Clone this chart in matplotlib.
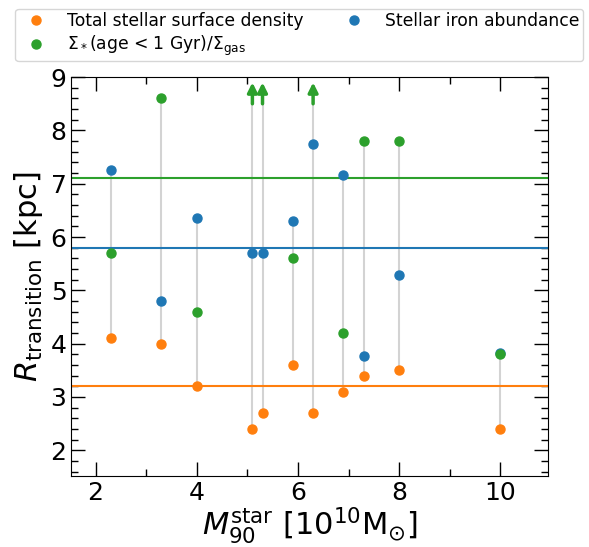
import numpy as np
import matplotlib.pyplot as plt
from matplotlib.ticker import MultipleLocator

# galaxy stellar mass (M90) and transition radii from three tracers
m90 = [2.3, 3.3, 4.0, 5.1, 5.3, 5.9, 6.3, 6.9, 7.3, 8.0, 10.0]
r_surf = [4.1, 4.0, 3.2, 2.4, 2.7, 3.6, 2.7, 3.1, 3.4, 3.5, 2.4]
r_iron = [7.25, 4.8, 6.35, 5.7, 5.7, 6.3, 7.75, 7.17, 3.77, 5.28, 3.83]
# nan = only a lower limit (drawn as an arrow)
r_sfr = [5.7, 8.6, 4.6, np.nan, np.nan, 5.6, np.nan, 4.2, 7.8, 7.8, 3.8]

med_surf = 3.2
med_iron = 5.8
med_sfr = 7.1

arrow_lo = 8.5
arrow_hi = 8.9

c_surf = "tab:orange"
c_iron = "tab:blue"
c_sfr = "tab:green"

fig = plt.figure(figsize=(5.89, 5.47), dpi=100)
ax = fig.add_axes([0.121, 0.13, 0.81, 0.729])

# grey connectors between the estimates of each galaxy
for i, x in enumerate(m90):
    vals = [r_surf[i], r_iron[i]]
    top = r_sfr[i] if not np.isnan(r_sfr[i]) else arrow_lo
    vals.append(top)
    ax.plot([x, x], [min(vals), max(vals)], color="lightgrey", lw=1.5, zorder=1)

ax.axhline(med_surf, color=c_surf, lw=1.5, zorder=2)
ax.axhline(med_iron, color=c_iron, lw=1.5, zorder=2)
ax.axhline(med_sfr, color=c_sfr, lw=1.5, zorder=2)

ax.plot(m90, r_surf, "o", color=c_surf, ms=6.5, ls="none", zorder=3,
        label="Total stellar surface density")
ax.plot(m90, r_sfr, "o", color=c_sfr, ms=6.5, ls="none", zorder=3.5,
        label=r"$\Sigma_*$(age < 1 Gyr)/$\Sigma_{\rm gas}$")
ax.plot(m90, r_iron, "o", color=c_iron, ms=6.5, ls="none", zorder=3,
        label="Stellar iron abundance")

# lower limits
for i, x in enumerate(m90):
    if np.isnan(r_sfr[i]):
        ax.annotate("", xy=(x, arrow_hi), xytext=(x, arrow_lo),
                    arrowprops=dict(arrowstyle="-|>", color=c_sfr, lw=2.5,
                                    mutation_scale=14, shrinkA=0, shrinkB=0),
                    zorder=4)

ax.set_xlim(1.52, 10.95)
ax.set_ylim(1.52, 9)
ax.xaxis.set_major_locator(MultipleLocator(2))
ax.xaxis.set_minor_locator(MultipleLocator(1))
ax.yaxis.set_major_locator(MultipleLocator(1))
ax.yaxis.set_minor_locator(MultipleLocator(0.2))
ax.tick_params(which="both", direction="in", top=True, right=True, labelsize=18)
ax.tick_params(which="major", length=10, width=1)
ax.tick_params(which="minor", length=5, width=1)

ax.set_xlabel(r"$M_{90}^{\rm star}$ [$10^{10}$M$_{\odot}$]", fontsize=22, labelpad=0)
ax.set_ylabel(r"$R_{\rm transition}$ [kpc]", fontsize=22)

fig.legend(loc="upper center", bbox_to_anchor=(0.508, 1.0), ncol=2,
           fontsize=12.3, handletextpad=0.8, columnspacing=2.0,
           labelspacing=0.2, borderpad=0.2, markerscale=1, frameon=True)

fig.savefig("out.png", dpi=100)
